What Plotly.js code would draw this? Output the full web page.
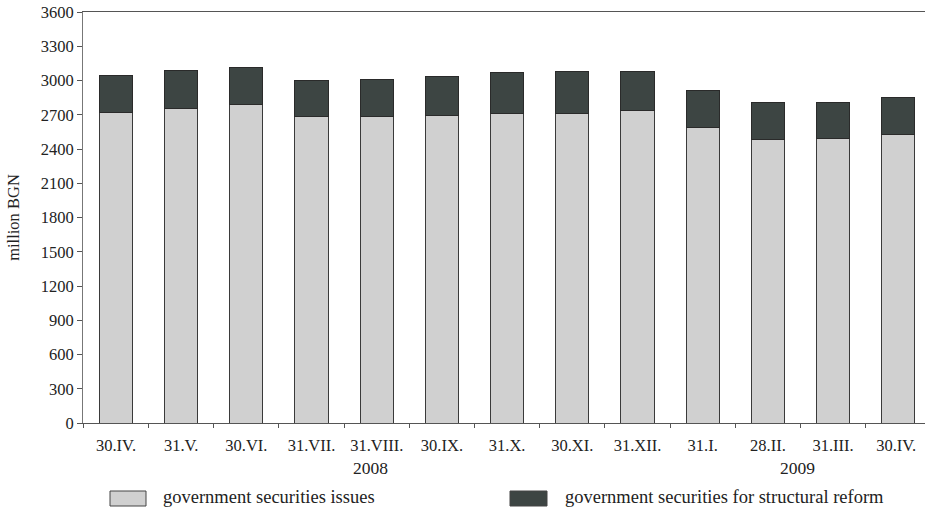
<!DOCTYPE html>
<html>
<head>
<meta charset="utf-8">
<script src="https://cdn.plot.ly/plotly-3.0.1.min.js"></script>
<style>html,body{margin:0;padding:0;background:#fff;}#chart{width:925px;height:508px;}</style>
</head>
<body>
<div id="chart"></div>
<script>
const categories = ["30.IV.", "31.V.", "30.VI.", "31.VII.", "31.VIII.", "30.IX.", "31.X.", "30.XI.", "31.XII.", "31.I.", "28.II.", "31.III.", "30.IV. "];
const securitiesIssues = [2718, 2759, 2791, 2681, 2683, 2692, 2715, 2715, 2736, 2584, 2479, 2490, 2531];
const structuralReform = [327, 330, 324, 323, 330, 344, 357, 362, 341, 327, 324, 319, 318];
const seriesNames = ["government securities issues", "government securities for structural reform"];
const yearLabels = ["2008", "2009"];
const yTicks = [0, 300, 600, 900, 1200, 1500, 1800, 2100, 2400, 2700, 3000, 3300, 3600];

const FONT = "Liberation Serif, Times New Roman, serif";
const colors = ["#d0d0d0", "#3d4543"];
const plotW = 842, plotH = 411, plotL = 83, plotT = 12;
const px = v => (v - plotL) / plotW;
const py = v => 1 - (v - plotT) / plotH;

const traces = [
  {type: "bar", x: categories, y: securitiesIssues, name: seriesNames[0],
   marker: {color: colors[0], line: {color: "#3a3a3a", width: 1}}, width: 0.51, showlegend: false},
  {type: "bar", x: categories, y: structuralReform, name: seriesNames[1],
   marker: {color: colors[1], line: {color: "#2a2a2a", width: 1}}, width: 0.51, showlegend: false}
];

const layout = {
  width: 925, height: 508,
  margin: {l: 83, r: 0, t: 12, b: 85},
  barmode: "stack",
  paper_bgcolor: "#fff", plot_bgcolor: "#fff",
  font: {family: FONT, size: 16, color: "#222"},
  xaxis: {
    type: "category", range: [-0.506, 12.41],
    showline: true, linecolor: "#555", linewidth: 1, mirror: true,
    ticks: "outside", tickson: "boundaries", ticklen: 4, tickcolor: "#555",
    showgrid: false, zeroline: false,
    tickfont: {family: FONT, size: 16.5, color: "#222"}, ticklabelstandoff: 7
  },
  yaxis: {
    range: [0, 3600], tickvals: yTicks, ticktext: yTicks.map(String),
    showline: true, linecolor: "#777", linewidth: 1,
    ticks: "outside", ticklen: 5, tickcolor: "#555",
    showgrid: false, zeroline: false,
    tickfont: {family: FONT, size: 16.5, color: "#222"},
    title: {text: "million BGN", font: {family: FONT, size: 16.5, color: "#222"}, standoff: 16}
  },
  annotations: [
    {text: yearLabels[0], xref: "x", yref: "paper", x: 3.91, y: py(468), yanchor: "middle", showarrow: false, font: {family: FONT, size: 17.5, color: "#222"}},
    {text: yearLabels[1], xref: "x", yref: "paper", x: 10.45, y: py(468), yanchor: "middle", showarrow: false, font: {family: FONT, size: 17.5, color: "#222"}},
    {text: seriesNames[0], xref: "paper", yref: "paper", x: px(161), xanchor: "left", y: py(497), yanchor: "middle", showarrow: false, font: {family: FONT, size: 18.5, color: "#222"}},
    {text: seriesNames[1], xref: "paper", yref: "paper", x: px(563), xanchor: "left", y: py(497), yanchor: "middle", showarrow: false, font: {family: FONT, size: 18.5, color: "#222"}}
  ],
  shapes: [
    {type: "rect", xref: "paper", yref: "paper", x0: px(110), x1: px(146), y0: py(506), y1: py(491), fillcolor: colors[0], line: {color: "#444", width: 1}},
    {type: "rect", xref: "paper", yref: "paper", x0: px(510), x1: px(547), y0: py(506), y1: py(491), fillcolor: colors[1], line: {color: "#444", width: 1}}
  ]
};

Plotly.newPlot("chart", traces, layout, {displayModeBar: false, staticPlot: true});
</script>
</body>
</html>
